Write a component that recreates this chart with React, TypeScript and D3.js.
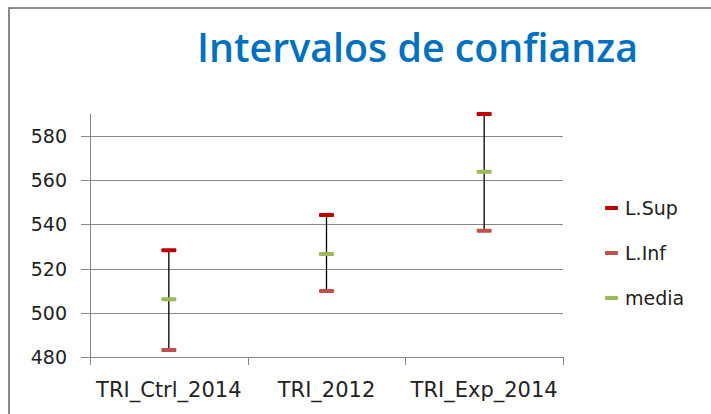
import React from "react";
import * as d3 from "d3";

const categories = ["TRI_Ctrl_2014", "TRI_2012", "TRI_Exp_2014"];
const lSup = [528.3, 544.2, 589.9];
const lInf = [483.2, 509.9, 537.1];
const media = [506.1, 526.6, 563.8];
const yTicks = [480, 500, 520, 540, 560, 580];
const seriesNames = ["L.Sup", "L.Inf", "media"];
const seriesColors = ["#C00000", "#C0504D", "#9BBB59"];

const W = 711;
const H = 414;
const left = 90;
const right = 563;
const yTop = 113.8;
const yBottom = 357;

export default function App() {
  const x = d3.scaleBand<string>().domain(categories).range([left, right]);
  const y = d3.scaleLinear().domain([480, 590]).range([yBottom, yTop]);
  const font = "'DejaVu Sans', sans-serif";
  const gridColor = "#878787";
  const markW = 15;
  const markH = 4;
  const seriesData = [lSup, lInf, media];
  const xTickPos = [...categories.map((c) => x(c) as number), right];

  return (
    <svg
      width={W}
      height={H}
      style={{ position: "absolute", left: 0, top: 0, background: "#fff" }}
    >
      <rect x={0} y={0} width={W} height={H} fill="#fff" />
      {/* outer frame */}
      <rect x={9} y={8} width={W + 20} height={H + 20} fill="none" stroke="#8a8a8a" strokeWidth={2} />

      {/* title */}
      <text
        x={197}
        y={62}
        fill="#0070C0"
        fontFamily="'Open Sans', 'DejaVu Sans', sans-serif"
        fontWeight={600}
        fontSize={40}
        textLength={441}
        lengthAdjust="spacingAndGlyphs"
      >
        Intervalos de confianza
      </text>

      {/* gridlines and y ticks */}
      {yTicks.map((t) => (
        <g key={t}>
          <line x1={81} x2={right} y1={Math.round(y(t)) + 0.5} y2={Math.round(y(t)) + 0.5} stroke={gridColor} strokeWidth={1} />
          <text
            x={67}
            y={y(t)}
            textAnchor="end"
            dominantBaseline="central"
            fontFamily={font}
            fontSize={19}
            fill="#222"
          >
            {t}
          </text>
        </g>
      ))}

      {/* y axis */}
      <line x1={left + 0.5} x2={left + 0.5} y1={yTop} y2={yBottom} stroke={gridColor} strokeWidth={1} />
      {/* x ticks */}
      {xTickPos.map((p, i) => (
        <line key={i} x1={Math.round(p) + 0.5} x2={Math.round(p) + 0.5} y1={yBottom} y2={yBottom + 8} stroke={gridColor} strokeWidth={1} />
      ))}

      {/* x labels */}
      {categories.map((c) => (
        <text
          key={c}
          x={(x(c) as number) + x.bandwidth() / 2}
          y={397}
          textAnchor="middle"
          fontFamily={font}
          fontSize={21}
          fill="#222"
        >
          {c}
        </text>
      ))}

      {/* whiskers */}
      {categories.map((c, i) => {
        const cx = (x(c) as number) + x.bandwidth() / 2;
        return (
          <line key={c} x1={cx} x2={cx} y1={y(lSup[i])} y2={y(lInf[i])} stroke="#000" strokeWidth={1.3} />
        );
      })}

      {/* markers */}
      {seriesData.map((arr, si) =>
        categories.map((c, i) => {
          const cx = (x(c) as number) + x.bandwidth() / 2;
          return (
            <rect
              key={`${si}-${c}`}
              x={cx - markW / 2}
              y={y(arr[i]) - markH / 2}
              width={markW}
              height={markH}
              rx={1}
              fill={seriesColors[si]}
            />
          );
        })
      )}

      {/* legend */}
      {seriesNames.map((n, i) => {
        const ly = 208 + i * 45;
        return (
          <g key={n}>
            <rect x={605} y={ly - 2} width={13} height={4} rx={1} fill={seriesColors[i]} />
            <text x={625} y={ly} dominantBaseline="central" fontFamily={font} fontSize={19} fill="#222">
              {n}
            </text>
          </g>
        );
      })}
    </svg>
  );
}
